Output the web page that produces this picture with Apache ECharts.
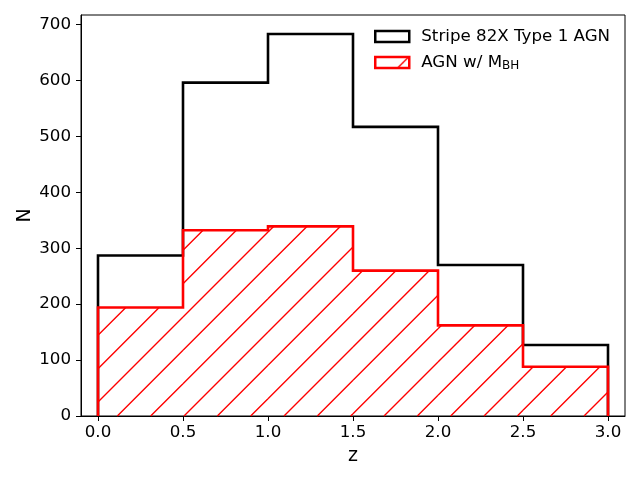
<!DOCTYPE html>
<html><head><meta charset="utf-8">
<script src="https://cdn.jsdelivr.net/npm/echarts@6/dist/echarts.min.js"></script>
<style>html,body{margin:0;padding:0;background:#fff}#c{width:640px;height:480px}</style>
</head><body><div id="c"></div>
<script>
const binEdges = [0.0, 0.5, 1.0, 1.5, 2.0, 2.5, 3.0];
const allCounts = [287, 596, 683, 517, 270, 127];
const mbhCounts = [194, 332, 339, 260, 162, 88];
const xTicks = [0.0, 0.5, 1.0, 1.5, 2.0, 2.5, 3.0];
const yTicks = [0, 100, 200, 300, 400, 500, 600, 700];
const nameAll = 'Stripe 82X Type 1 AGN';
const nameMbh = 'AGN w/ MBH';

function stepPath(edges, counts) {
  const pts = [[edges[0], 0]];
  for (let i = 0; i < counts.length; i++) {
    pts.push([edges[i], counts[i]]);
    pts.push([edges[i + 1], counts[i]]);
  }
  pts.push([edges[edges.length - 1], 0]);
  return pts;
}

const HATCH = 100 / 3;
const HATCH_W = 1.4;

// legend hatch pattern
const tile = document.createElement('canvas');
tile.width = 100; tile.height = 100;
const tc = tile.getContext('2d');
tc.strokeStyle = '#ff0000';
tc.lineWidth = HATCH_W;
for (let k = 0; k <= 7; k++) {
  const c = k * HATCH;
  tc.beginPath();
  tc.moveTo(c + 2, -2);
  tc.lineTo(-2, c + 2);
  tc.stroke();
}
const hatch = { image: tile, repeat: 'repeat' };

const binData = mbhCounts.map((v, i) => [binEdges[i], binEdges[i + 1], v]);

const FS = 16.7;
const chart = echarts.init(document.getElementById('c'), null, { renderer: 'canvas' });
chart.setOption({
  animation: false,
  textStyle: { fontFamily: 'DejaVu Sans' },
  grid: { left: 81, right: 15, top: 15, bottom: 64, show: true, borderColor: '#000', borderWidth: 1, backgroundColor: 'transparent' },
  xAxis: {
    type: 'value', min: -0.1, max: 3.1,
    name: 'z', nameLocation: 'middle', nameGap: 31,
    nameTextStyle: { fontSize: 19, color: '#000', fontFamily: 'DejaVu Sans' },
    axisLine: { show: true, onZero: false, lineStyle: { color: '#000', width: 1 } },
    axisTick: { show: true, length: 5, inside: false, lineStyle: { color: '#000' }, customValues: xTicks },
    axisLabel: { color: '#000', fontSize: FS, margin: 8, customValues: xTicks, formatter: v => v.toFixed(1) },
    splitLine: { show: false }
  },
  yAxis: {
    type: 'value', min: 0, max: 717,
    name: 'N', nameLocation: 'middle', nameGap: 46, nameMoveOverlap: false,
    nameTextStyle: { fontSize: 19, color: '#000', fontFamily: 'DejaVu Sans' },
    axisLine: { show: true, onZero: false, lineStyle: { color: '#000', width: 1 } },
    axisTick: { show: true, length: 5, inside: false, lineStyle: { color: '#000' }, customValues: yTicks },
    axisLabel: { color: '#000', fontSize: FS, margin: 10, customValues: yTicks },
    splitLine: { show: false }
  },
  legend: {
    orient: 'vertical', left: 374, top: 28, itemGap: 9, padding: 0,
    itemWidth: 34, itemHeight: 11,
    textStyle: { fontSize: FS, color: '#000', fontFamily: 'DejaVu Sans', padding: [0, 0, 0, 7],
      rich: { sub: { fontSize: 12, color: '#000', fontFamily: 'DejaVu Sans', padding: [7, 0, 0, 0] } } },
    formatter: n => n === nameMbh ? 'AGN w/ M{sub|BH}' : n,
    data: [
      { name: nameAll, icon: 'rect', itemStyle: { color: '#fff', borderColor: '#000', borderWidth: 2.5 } },
      { name: nameMbh, icon: 'rect', itemStyle: { color: hatch, borderColor: '#ff0000', borderWidth: 2.5 } }
    ]
  },
  series: [
    {
      name: nameAll, type: 'line', data: stepPath(binEdges, allCounts),
      symbol: 'none', lineStyle: { color: '#000', width: 2.6, join: 'miter' }, itemStyle: { color: '#000' }, z: 2
    },
    {
      name: nameMbh, type: 'custom', data: binData, z: 3,
      itemStyle: { color: '#ff0000' },
      renderItem: function (params, api) {
        const p0 = api.coord([api.value(0), 0]);
        const p1 = api.coord([api.value(1), api.value(2)]);
        const x0 = p0[0], x1 = p1[0], yTop = p1[1], yBot = p0[1];
        let d = '';
        const kStart = Math.ceil((x0 + yTop) / HATCH);
        const kEnd = Math.floor((x1 + yBot) / HATCH);
        for (let k = kStart; k <= kEnd; k++) {
          const c = k * HATCH;
          const xa = Math.max(x0, c - yBot);
          const xb = Math.min(x1, c - yTop);
          if (xb <= xa) continue;
          d += 'M' + xa.toFixed(2) + ' ' + (c - xa).toFixed(2) + 'L' + xb.toFixed(2) + ' ' + (c - xb).toFixed(2);
        }
        return {
          type: 'path',
          shape: { pathData: d },
          style: { stroke: '#ff0000', fill: 'none', lineWidth: HATCH_W }
        };
      }
    },
    {
      name: nameMbh, type: 'line', data: stepPath(binEdges, mbhCounts),
      symbol: 'none', lineStyle: { color: '#ff0000', width: 2.6, join: 'miter' }, itemStyle: { color: '#ff0000' }, z: 4
    }
  ]
});
</script></body></html>
